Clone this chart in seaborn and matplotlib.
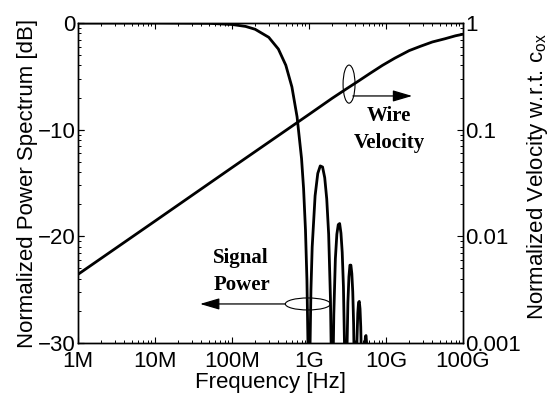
import matplotlib
matplotlib.use("Agg")
import matplotlib.pyplot as plt
import seaborn as sns
import pandas as pd
from matplotlib.patches import Ellipse
from matplotlib.ticker import FixedLocator, FixedFormatter, LogLocator, NullFormatter

# ---------------- data ----------------
freq_signal_hz = [1e6, 1e7, 5e7, 1e8, 1.5e8, 2e8, 3e8, 4e8, 5e8, 6e8, 7e8, 8e8, 8.5e8, 9e8, 9.4e8, 9.7e8, 1.0e9,
                  1.03e9, 1.06e9, 1.1e9, 1.2e9, 1.3e9, 1.4e9, 1.5e9, 1.6e9, 1.7e9, 1.8e9, 1.9e9, 1.94e9, 2.0e9,
                  2.06e9, 2.1e9, 2.2e9, 2.3e9, 2.4e9, 2.5e9, 2.6e9, 2.7e9, 2.8e9, 2.9e9, 3.0e9,
                  3.1e9, 3.2e9, 3.3e9, 3.4e9, 3.5e9, 3.6e9, 3.7e9, 3.8e9, 3.9e9, 4.0e9,
                  4.1e9, 4.2e9, 4.3e9, 4.4e9, 4.5e9, 4.6e9, 4.7e9, 4.8e9, 5.0e9,
                  5.2e9, 5.3e9, 5.4e9, 5.5e9, 5.6e9, 5.7e9, 6.0e9]
power_db = [0.0, 0.0, -0.03, -0.14, -0.32, -0.59, -1.34, -2.44, -3.96, -6.0, -8.8, -12.7, -15.5, -19.4, -24.1, -30.2, -60.0,
            -30.7, -25.0, -21.0, -16.2, -14.1, -13.4, -13.5, -14.5, -16.5, -19.8, -25.9, -30.4, -60.0,
            -31.4, -27.3, -22.1, -19.8, -18.9, -18.8, -19.7, -21.5, -24.7, -30.7, -60.0,
            -31.4, -26.2, -23.8, -22.7, -22.7, -23.5, -25.2, -28.3, -34.2, -60.0,
            -34.9, -29.7, -27.2, -26.2, -26.1, -26.8, -28.5, -31.7, -60.0,
            -32.9, -30.5, -29.4, -29.3, -30.0, -31.8, -60.0]

freq_velocity_hz = [1e6, 1e7, 1e8, 1e9, 2e9, 3e9, 4.4e9, 6.2e9, 9e9, 1.3e10, 2e10, 2.8e10, 4e10, 5.8e10, 8e10, 1e11]
velocity = [0.0044, 0.0139, 0.0441, 0.139, 0.197, 0.239, 0.286, 0.337, 0.401, 0.468, 0.551, 0.605, 0.664, 0.711, 0.759, 0.785]

x_ticks = [1e6, 1e7, 1e8, 1e9, 1e10, 1e11]
x_tick_labels = ["1M", "10M", "100M", "1G", "10G", "100G"]
left_ticks = [0, -10, -20, -30]
left_tick_labels = ["0", "\u221210", "\u221220", "\u221230"]
right_ticks = [1, 0.1, 0.01, 0.001]
right_tick_labels = ["1", "0.1", "0.01", "0.001"]

# ---------------- style ----------------
sns.set_theme(style="ticks")
plt.rcParams["font.family"] = ["Liberation Sans", "DejaVu Sans"]
plt.rcParams["mathtext.fontset"] = "custom"
plt.rcParams["mathtext.rm"] = "Liberation Sans"
plt.rcParams["axes.linewidth"] = 1.0
plt.rcParams["axes.edgecolor"] = "black"

FS = 16
fig = plt.figure(figsize=(5.52, 3.96), dpi=100)
ax = fig.add_axes([78 / 552, 1 - 343 / 396, 385 / 552, 320 / 396])
ax.set_xscale("log")

sig_df = pd.DataFrame({"freq": freq_signal_hz, "power": power_db})
sns.lineplot(data=sig_df, x="freq", y="power", ax=ax, color="black", lw=2.0, estimator=None, sort=False)
ax.set_xlim(1e6, 1e11)
ax.set_ylim(-30, 0)

ax2 = ax.twinx()
ax2.set_yscale("log")
vel_df = pd.DataFrame({"freq": freq_velocity_hz, "vel": velocity})
sns.lineplot(data=vel_df, x="freq", y="vel", ax=ax2, color="black", lw=2.0, estimator=None, sort=False)
ax2.set_ylim(1e-3, 1)
ax2.set_xlim(1e6, 1e11)

for a in (ax, ax2):
    for s in a.spines.values():
        s.set_visible(True)
        s.set_color("black")
        s.set_linewidth(1.0)

# x ticks
ax.xaxis.set_major_locator(FixedLocator(x_ticks))
ax.xaxis.set_major_formatter(FixedFormatter(x_tick_labels))
ax.xaxis.set_minor_locator(LogLocator(base=10, subs=range(2, 10), numticks=20))
ax.xaxis.set_minor_formatter(NullFormatter())
ax.tick_params(axis="x", which="both", direction="in", top=True, bottom=True, colors="black",
               labelsize=FS, pad=5.5)
ax.tick_params(axis="x", which="major", length=4, width=0.8)
ax.tick_params(axis="x", which="minor", length=2.2, width=0.7)

# left y ticks
ax.yaxis.set_major_locator(FixedLocator(left_ticks))
ax.yaxis.set_major_formatter(FixedFormatter(left_tick_labels))
ax.tick_params(axis="y", which="major", direction="in", left=True, right=False, length=4, width=0.8,
               labelsize=FS, pad=1.5, colors="black")

# right y ticks
ax2.yaxis.set_major_locator(FixedLocator(right_ticks))
ax2.yaxis.set_major_formatter(FixedFormatter(right_tick_labels))
ax2.yaxis.set_minor_locator(LogLocator(base=10, subs=range(2, 10), numticks=20))
ax2.yaxis.set_minor_formatter(NullFormatter())
ax2.tick_params(axis="y", which="both", direction="in", left=True, right=True, labelleft=False,
                labelright=True, labelsize=FS, pad=1.5, colors="black")
ax2.tick_params(axis="y", which="major", length=4, width=0.8)
ax2.tick_params(axis="y", which="minor", length=2.2, width=0.7)

ax.set_xlabel("Frequency [Hz]", fontsize=FS, color="black", labelpad=0.5)
ax.set_ylabel("Normalized Power Spectrum [dB]", fontsize=FS, color="black")
ax.yaxis.set_label_coords(-0.103, 0.5)
ax2.set_ylabel("Normalized Velocity w.r.t. c$_{\\mathregular{ox}}$", fontsize=FS, color="black")
ax2.yaxis.set_label_coords(1.16, 0.52)

# ---------------- annotations ----------------
arrow_kw = dict(arrowstyle="-|>,head_length=0.85,head_width=0.25", color="black", lw=0.9,
                shrinkA=0, shrinkB=0, mutation_scale=14)
ax.annotate("", xy=(0.868, 0.772), xytext=(0.714, 0.772), xycoords="axes fraction",
            textcoords="axes fraction", arrowprops=arrow_kw)
ax.add_patch(Ellipse((0.704, 0.809), 0.031, 0.119, transform=ax.transAxes, fill=False,
                     edgecolor="black", lw=0.8))
ax.text(0.808, 0.709, "Wire", transform=ax.transAxes, ha="center", va="center",
        fontsize=15, fontweight="bold", family="Liberation Serif", color="black")
ax.text(0.808, 0.625, "Velocity", transform=ax.transAxes, ha="center", va="center",
        fontsize=15, fontweight="bold", family="Liberation Serif", color="black")

ax.annotate("", xy=(0.317, 0.122), xytext=(0.538, 0.122), xycoords="axes fraction",
            textcoords="axes fraction", arrowprops=arrow_kw)
ax.add_patch(Ellipse((0.597, 0.122), 0.117, 0.0375, transform=ax.transAxes, fill=False,
                     edgecolor="black", lw=0.8))
ax.text(0.351, 0.266, "Signal", transform=ax.transAxes, ha="left", va="center",
        fontsize=15, fontweight="bold", family="Liberation Serif", color="black")
ax.text(0.351, 0.181, "Power", transform=ax.transAxes, ha="left", va="center",
        fontsize=15, fontweight="bold", family="Liberation Serif", color="black")

fig.savefig("out.png", dpi=100, facecolor="white")
